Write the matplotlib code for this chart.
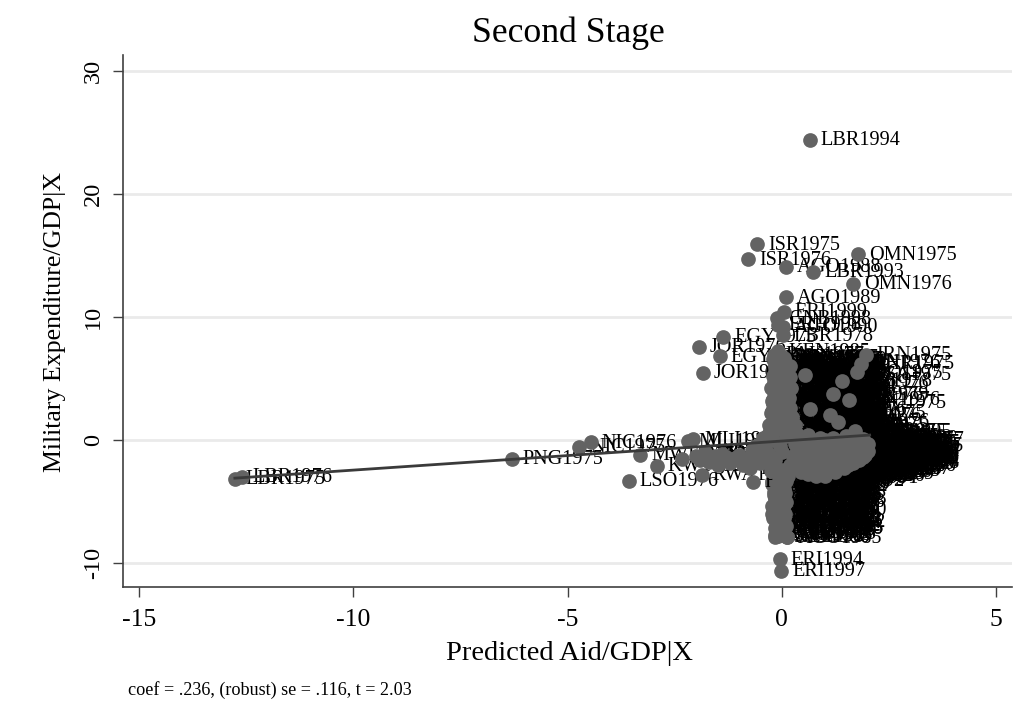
import matplotlib
matplotlib.use("Agg")
import matplotlib.pyplot as plt

# isolated countries, labels stay readable
out_x = [0.65, -0.57, -0.79, 1.77, 0.09, 0.73, 1.66, 0.09, 0.05, -0.12,
         -0.09, 0.02, 0.02, -1.37, -1.93, -1.45, -1.84, -0.05, -0.01, -6.3,
         -4.73, -4.46, -3.57, -3.3, -2.92, -2.34, -2.2, -2.07, -1.87, -0.67,
         -12.76, -12.6, 0.11, -0.16]
out_y = [24.4, 15.9, 14.7, 15.1, 14.1, 13.65, 12.7, 11.6, 10.4, 9.9,
         9.35, 9.2, 8.5, 8.4, 7.6, 6.8, 5.45, -9.7, -10.65, -1.55,
         -0.55, -0.2, -3.3, -1.2, -2.1, -1.55, -0.1, 0.05, -2.85, -3.4,
         -3.15, -3.0, -7.9, -7.85]
out_lab = """LBR1994 ISR1975 ISR1976 OMN1975 AGO1988 LBR1993 OMN1976 AGO1989 ERI1999 GNB1998
ERI1998 AGO1990 LBR1978 EGY1975 JOR1976 EGY1976 JOR1977 ERI1994 ERI1997 PNG1975
NIC1975 NIC1976 LSO1976 MWI1975 KWT1991 MWI1976 MLI1975 MLI1976 RWA1975 BDI1976
LBR1975 LBR1976 AGO1985 AGO1986""".split()

# markers on top of the text: the grey column and band
front_x = [-0.1, 0.05, -0.15, 0.1, -0.2, 0.0, -0.1, 0.12, -0.22, 0.05,
           -0.25, 0.15, -0.3, 0.2, -0.45, 0.3, -0.5, 0.25, -0.4, 0.2,
           -0.1, 0.1, -0.12, 0.08, -0.15, 0.06, -0.13, 0.05, -0.12, -0.05,
           -0.08, 0.11, -0.15, -0.18, 0.05, 0.12, -0.18, -0.2, -0.1, -0.05,
           0.35, 0.5, 0.65, 0.8, 0.95, 1.1, 1.25, 1.4, 1.55, 1.7,
           1.85, 2.02, 1.95, 1.8, 1.6, 1.45, 1.25, 1.0, 0.8, 0.55,
           0.7, 0.9, 1.15, 1.35, 1.5, 1.7, 1.9, 1.0, 0.6, 0.4,
           -2.0, -1.8, -1.6, -1.4, -1.2, -1.0, -0.8, -0.6, -1.7, -1.5,
           -1.1, -0.9, -0.7, -0.5, -0.4, -1.3, -0.75, -0.55, -0.35, -0.25,
           0.54, 1.4, 1.19, 1.56, 1.75, 1.96, 1.85, 0.65, 1.12, 1.3,
           0.3, 0.45, 0.6, 0.75, 0.9, 1.05, 1.2, 1.35, 1.5, 1.65,
           1.8, 1.95, 0.4, 0.55, 0.7, 0.85, 1.0, 1.15, 1.3, 1.45,
           1.6, 1.75, 1.9, 2.0, 0.45, 0.6, 0.75, 0.9, 1.05, 1.2,
           1.35, 1.5, 1.65, 1.1, 0.85, -1.9, -1.55, -1.25, -0.95, -0.65,
           -0.3, -0.2, -0.05, 0.1, -0.3, -0.15, 0.0, 0.2, -0.6, -0.45,
           0.0, 0.15, -0.1, 0.05, -0.15, 0.1, -0.05, 0.08, -0.12, 0.1,
           -0.1, 0.1, -0.15, 0.1, -0.15, 0.1, -0.12, 0.14, -0.2, 0.1]
front_y = [7.2, 6.7, 6.2, 5.7, 5.2, 4.7, 4.2, 3.7, 3.2, 2.7,
           2.2, 1.7, 1.2, 0.7, 0.2, -0.3, -0.8, -1.3, -1.8, -2.3,
           -2.8, -3.3, -3.8, -4.3, -4.8, -5.3, -5.8, -6.3, -6.8, -7.3,
           -7.8, -7.85, -7.7, 6.9, 5.9, 4.9, 3.9, 2.9, 1.9, 0.9,
           -0.6, -1.2, -2.0, -2.9, -1.5, -0.6, -2.6, -1.1, -2.0, -0.4,
           -0.9, -0.3, -1.2, -1.6, -1.5, -2.3, -1.7, -2.9, -0.9, -2.3,
           -2.7, -0.2, -2.2, -0.1, 0.3, 0.7, 0.1, 0.0, 0.4, -1.8,
           -1.3, -1.0, -1.6, -1.1, -1.9, -1.2, -1.5, -1.0, -1.8, -2.0,
           -1.5, -2.0, -0.8, -1.9, -0.6, -1.4, -2.3, -0.4, -1.5, -2.5,
           5.3, 4.8, 3.7, 3.25, 5.5, 6.9, 6.2, 2.5, 2.0, 1.5,
           0.1, -0.3, 0.1, -0.4, 0.2, -0.3, 0.2, -0.5, -0.2, -0.1,
           -0.1, -0.7, -1.0, -0.9, -1.3, -1.4, -1.1, -1.2, -1.1, -0.6,
           -1.0, -1.1, -1.4, -0.9, -2.6, -2.8, -1.8, -2.2, -2.2, -2.4,
           -2.1, -1.6, -1.9, -1.9, -2.6, -1.6, -1.3, -1.6, -1.5, -1.3,
           0.6, 0.0, -0.5, 0.3, -1.1, -1.6, -1.0, -2.0, -0.5, -1.2,
           -2.4, -2.9, -3.5, -4.0, -4.5, -5.0, -5.5, -6.0, -6.5, -7.0,
           6.4, 5.5, 5.0, 4.4, 3.5, 3.2, 2.5, 2.3, 1.5, 1.0]
front_lab = """KEN1985 SDN1980 TCD1984 ZMB1977 SOM1982 ETH1979 MRT1981 GIN1983 YEM1990 MAR1978
TZA1986 UGA1988 SEN1979 GHA1977 NER1982 MDG1984 BFA1987 TGO1980 BEN1983 ZWE1989
CMR1981 CAF1985 COG1978 ZAR1986 MOZ1990 NGA1992 BOL1982 HND1988 PER1984 GTM1979
CIV1991 SLE1987 GMB1983 PAK1977 IND1981 LKA1985 NPL1982 BGD1986 PHL1979 IDN1983
MUS1980 LSO1985 SWZ1978 BWA1982 GAB1984 CPV1986 COM1989 DJI1992 FJI1979 GUY1981
JAM1985 HTI1987 SLV1983 NIC1988 CRI1980 DOM1976 ECU1978 PRY1984 TUN1977 DZA1981
VNM1991 LAO1986 KHM1993 MNG1990 ALB1994 ARM1995 GEO1996 KGZ1997 TJK1998 UZB1999
MWI1982 MLI1984 RWA1986 BDI1988 KWT1977 BHR1979 QAT1981 ARE1983 SAU1985 LBN1987
IRQ1989 IRN1991 TUR1993 GRC1976 CYP1978 MLT1980 PAN1982 COL1984 VEN1986 ARG1988
SYR1977 SYR1978 YEM1979 SDN1976 IRQ1975 IRN1975 BHR1975 KWT1976 SAU1976 ARE1976
KEN1991 SDN1992 TCD1993 ZMB1994 SOM1985 ETH1986 MRT1987 GIN1988 YEM1991 MAR1992
TZA1993 UGA1994 SEN1995 GHA1996 NER1997 MDG1998 BFA1999 TGO1975 BEN1976 ZWE1977
CMR1978 CAF1979 COG1980 ZAR1981 MOZ1982 NGA1983 BOL1984 HND1985 PER1986 GTM1987
CIV1988 SLE1989 GMB1990 PAK1991 IND1992 LKA1993 NPL1994 BGD1995 PHL1996 IDN1997
MUS1998 LSO1999 SWZ1975 BWA1976 GAB1977 CPV1978 COM1979 DJI1980 FJI1981 GUY1982
JAM1983 HTI1984 SLV1985 NIC1986 CRI1987 DOM1988 ECU1989 PRY1990 TUN1991 DZA1992
VNM1993 LAO1994 KHM1995 MNG1996 ALB1997 ARM1998 GEO1999 KGZ1996 TJK1995 UZB1997""".split()

# upper right edge of the column
edge_x = [0.2, 0.18, 0.22, 0.16, 0.2, 0.24, 0.3, 0.35]
edge_y = [6.0, 5.1, 4.2, 3.4, 2.6, 1.9, 1.2, 0.5]
edge_lab = "ZAF1985 ZAF1986 NAM1991 NAM1992 CHN1984 CHN1985 KOR1983 KOR1984".split()

# markers under the text: the black mass right of the column
back_x = [0.1, 0.25, 0.05, 0.3, 0.15, 0.35, 0.08, 0.28, 0.18, 0.4,
          0.12, 0.3, 0.2, 0.38, 0.06, 0.27, 0.45, 0.15, 0.33, 0.5,
          0.22, 0.55, 0.4, 0.65, 0.3, 0.7, 0.5, 0.8, 0.6, 0.1,
          0.15, 0.05, 0.2, 0.1, 0.02, 0.18, 0.08, 0.14, 0.0, 0.12,
          0.06, 0.16, 0.02, 0.1, 0.12, 0.0, 0.08, 0.1, 0.3, 0.28,
          0.25, 0.12, 0.3, 0.06, 0.36, 0.18, 0.28, 0.4, 0.2, 0.33,
          0.15, 0.3, 0.05, 0.38, 0.22, 0.1, 0.34, 0.26, 0.42, 0.16,
          0.3, 0.5, 0.6, 0.9, 1.2, 1.5, 1.7, 1.85, 0.3, 0.45,
          1.7, 1.82, 1.42, 1.19, 1.7, 1.08, 1.28, 1.7, 1.95, 2.02,
          2.05, 1.9, 2.03, 1.85, 1.98, 1.7, 1.6, 1.4, 1.2, 1.75,
          1.6, 1.97, 1.65, 2.0, 1.85, 1.55, 1.45, 1.1, 0.95, 0.8,
          1.4, 1.2, 1.05, 0.9, 0.7, 1.8, 1.92, 1.75, 1.95, 1.65,
          0.02, 0.2, 0.3, 0.1, 0.25, 0.05, 0.32, 0.15, 0.28, 0.08,
          0.22, 0.35, 0.12, 0.3, 0.18, 0.04, 0.33, 0.1, 0.26, 0.4,
          0.16, 0.45, 0.3, 0.5, 0.2, 0.12, 0.3, 0.05, 0.24, 0.33,
          0.1, 0.28, 0.18, 0.35, 0.25, 0.42, 0.22, 0.05, 0.2, 0.12,
          0.03, 0.18, 0.1, 0.2, 0.06, 0.15, 0.0, 0.12, 0.2, 0.08,
          0.16, 0.02, 0.1, 0.18, 0.05, 0.25, 0.3, 0.22, 0.14, 0.07,
          0.17, 0.04, 0.13, 0.09, 0.06, 0.2, 0.02, 0.15, 0.19, 0.05,
          0.55, 0.8, 1.0, 1.2, 1.4, 1.6, 1.8, 1.9, 1.95, 2.0,
          2.02, 1.95, 2.05, 1.9, 2.0, 1.85, 1.95, 1.8, 1.6, 1.4,
          1.2, 1.0, 0.7, 1.75, 1.7, 1.65, 1.5, 1.25, 0.85, 1.6,
          1.5, 1.15, 0.75, 0.4, 0.55, 1.0, 1.3, 1.45, 1.5, 1.55,
          -0.2, -0.12, -0.22, -0.08, -0.18, -0.25, -0.1, -0.2, -0.14, -0.24,
          -0.06, -0.2, -0.15, -0.12, -0.22, -0.08, -0.18, -0.14, -0.24, -0.1,
          -0.2, -0.07, -0.16, -0.12, -0.22, -0.09, -0.18, -0.13, -0.23, -0.1]
back_y = [6.7, 6.45, 6.2, 5.95, 5.7, 5.45, 5.2, 4.95, 4.7, 4.45,
          4.2, 3.95, 3.7, 3.45, 3.2, 2.95, 2.7, 2.45, 2.2, 1.95,
          1.7, 1.45, 1.2, 0.95, 0.7, 0.45, 0.2, -0.05, -0.3, -2.95,
          -3.2, -3.45, -3.7, -3.95, -4.2, -4.45, -4.7, -4.95, -5.2, -5.45,
          -5.7, -5.95, -6.2, -6.45, -6.7, -6.95, -7.2, -7.45, -3.1, -3.6,
          6.55, 6.05, 5.55, 5.05, 4.55, 4.05, 3.55, 3.05, 2.55, 2.05,
          6.3, 5.8, 5.3, 4.8, 4.3, 3.8, 3.3, 2.8, 2.3, 1.8,
          1.55, 1.3, 1.05, 0.8, 0.55, 0.3, 0.05, -0.2, 1.9, 1.4,
          6.25, 5.3, 4.6, 3.65, 3.0, 2.2, 1.25, 0.65, 0.0, -0.2,
          -0.5, -0.8, -1.05, -1.3, -1.55, -1.8, -2.05, -2.3, -2.55, -0.65,
          -0.35, -0.95, -1.15, -1.45, -1.7, -1.95, -2.2, -2.45, -2.7, -3.0,
          -0.1, 0.15, 0.4, 0.75, 1.0, -0.75, -1.25, -1.6, -1.85, -2.15,
          6.6, 6.35, 6.1, 5.85, 5.6, 5.35, 5.1, 4.85, 4.6, 4.35,
          4.1, 3.85, 3.6, 3.35, 3.1, 2.85, 2.6, 2.35, 2.1, 1.85,
          1.6, 1.35, 1.1, 0.85, 6.5, 6.0, 5.5, 5.0, 4.5, 4.0,
          3.5, 3.0, 2.5, 2.0, 1.5, 1.0, -3.0, -3.3, -3.55, -3.8,
          -4.05, -4.3, -4.55, -4.8, -5.05, -5.3, -5.55, -5.8, -6.05, -6.3,
          -6.55, -6.8, -7.05, -7.3, -7.55, -3.15, -3.65, -4.15, -4.65, -5.15,
          -5.65, -6.15, -6.65, -7.15, -7.6, -3.4, -3.9, -4.4, -4.9, -5.4,
          1.1, 0.9, 0.7, 0.5, 0.3, 0.1, -0.1, -0.3, -0.5, -0.7,
          -0.9, -1.1, -1.3, -1.5, -1.7, -1.9, -2.1, -2.3, -2.5, -2.7,
          -2.9, -3.1, -3.3, -1.0, -1.4, -1.8, -2.2, -2.6, -3.0, -0.6,
          -0.2, 0.2, 0.6, -3.5, -3.2, -2.8, -2.4, -2.0, -1.6, -1.2,
          6.6, 6.1, 5.65, 5.2, 4.7, 4.25, 3.75, 3.3, 2.8, 2.35,
          1.85, 1.4, 0.95, -3.1, -3.55, -4.0, -4.5, -4.9, -5.35, -5.8,
          -6.3, -6.7, -7.15, -7.55, -3.35, -3.8, -4.25, -5.1, -6.0, -6.95]
back_lab = """KEN1975 SDN1976 TCD1977 ZMB1978 SOM1979 ETH1980 MRT1981 GIN1982 YEM1983 MAR1984
TZA1985 UGA1986 SEN1987 GHA1988 NER1989 MDG1990 BFA1991 TGO1992 BEN1993 ZWE1994
CMR1995 CAF1996 COG1997 ZAR1998 MOZ1999 NGA1975 BOL1976 HND1977 PER1978 GTM1979
CIV1980 SLE1981 GMB1982 PAK1983 IND1984 LKA1985 NPL1986 BGD1987 PHL1988 IDN1989
MUS1990 LSO1991 SWZ1992 BWA1993 GAB1994 CPV1995 COM1996 DJI1997 FJI1998 GUY1999
JAM1975 HTI1976 SLV1977 NIC1978 CRI1979 DOM1980 ECU1981 PRY1982 TUN1983 DZA1984
VNM1985 LAO1986 KHM1987 MNG1988 ALB1989 ARM1990 GEO1991 KGZ1992 TJK1993 UZB1994
MWI1995 MLI1996 RWA1997 BDI1998 KWT1999 BHR1975 QAT1976 ARE1977 SAU1978 LBN1979
IRN1976 USA1975 IRQ1976 SYR1976 SAU1975 KWT1975 QAT1975 ARE1975 OMN1977 TUR1975
GRC1975 CYP1976 MLT1977 PAN1978 COL1979 VEN1980 ARG1981 BRA1982 CHL1983 URY1984
MEX1985 CUB1986 PNG1987 SLB1988 VUT1989 WSM1990 TON1991 MDV1992 BTN1993 MMR1994
THA1995 MYS1996 KOR1997 CHN1998 NAM1999 ZAF1975 AGO1976 ERI1977 GNB1978 STP1979
KEN1980 SDN1981 TCD1982 ZMB1983 SOM1984 ETH1985 MRT1986 GIN1987 YEM1988 MAR1989
TZA1990 UGA1991 SEN1992 GHA1993 NER1994 MDG1995 BFA1996 TGO1997 BEN1998 ZWE1999
CMR1975 CAF1976 COG1977 ZAR1978 MOZ1979 NGA1980 BOL1981 HND1982 PER1983 GTM1984
CIV1985 SLE1986 GMB1987 PAK1988 IND1989 LKA1990 NPL1991 BGD1992 PHL1993 IDN1994
MUS1995 LSO1996 SWZ1997 BWA1998 GAB1999 CPV1975 COM1976 DJI1977 FJI1978 GUY1979
JAM1980 HTI1981 SLV1982 NIC1983 CRI1984 DOM1985 ECU1986 PRY1987 TUN1988 DZA1989
VNM1990 LAO1991 KHM1992 MNG1993 ALB1995 ARM1996 GEO1997 KGZ1998 TJK1999 UZB1995
MWI1977 MLI1978 RWA1979 BDI1980 KWT1981 BHR1982 QAT1983 ARE1984 SAU1986 LBN1985
IRN1980 USA1981 IRQ1982 SYR1983 TUR1984 GRC1985 CYP1986 MLT1987 PAN1988 COL1989
VEN1990 ARG1991 BRA1992 CHL1993 URY1994 MEX1995 CUB1996 PNG1997 SLB1998 VUT1999
WSM1975 TON1976 MDV1977 BTN1978 MMR1979 THA1980 MYS1981 KOR1982 CHN1983 NAM1990
KEN1978 SDN1979 TCD1980 ZMB1981 SOM1980 ETH1981 MRT1982 GIN1984 YEM1985 MAR1986
TZA1987 UGA1989 SEN1990 GHA1981 NER1983 MDG1985 BFA1988 TGO1989 BEN1990 ZWE1991
CMR1992 CAF1993 COG1994 ZAR1995 MOZ1996 NGA1997 BOL1998 HND1999 PER1995 GTM1996""".split()

# fitted line end points
fit_x = [-12.76, 2.05]
fit_y = [-3.1, 0.4]

xticks = [-15, -10, -5, 0, 5]
yticks = [-10, 0, 10, 20, 30]

plt.rcParams["font.family"] = ["Liberation Serif", "DejaVu Serif"]
MARK = "#636363"

fig = plt.figure(figsize=(10.29, 7.04), dpi=100)
ax = fig.add_axes([123 / 1029, 1 - 587 / 704, (1012 - 123) / 1029, (587 - 55) / 704])
ax.set_xlim(-15.37, 5.37)
ax.set_ylim(-11.95, 31.3)

top_x = front_x + edge_x + out_x
top_y = front_y + edge_y + out_y
ax.scatter(back_x, back_y, s=112, color=MARK, linewidths=0, zorder=2)
for x, y, lab in zip(back_x + top_x, back_y + top_y, back_lab + front_lab + edge_lab + out_lab):
    ax.annotate(lab, (x, y), xytext=(7.9, -0.6), textcoords="offset points", fontsize=14.6,
                color="black", va="center", ha="left", zorder=3, annotation_clip=False)
ax.scatter(top_x, top_y, s=112, color=MARK, linewidths=0, zorder=4)
ax.plot(fit_x, fit_y, color="#3a3a3a", lw=2, zorder=5)

ax.set_xticks(xticks)
ax.set_yticks(yticks)
ax.set_xticklabels([str(t) for t in xticks], fontsize=18.5)
ax.set_yticklabels([str(t) for t in yticks], fontsize=17.5, rotation=90, va="center")
ax.tick_params(axis="x", length=7.5, width=1, color="#404040", pad=8)
ax.tick_params(axis="y", length=7.5, width=1, color="#404040", pad=6)
ax.grid(axis="y", color="#eaeaea", lw=2)
ax.set_axisbelow(True)
for side in ["top", "right"]:
    ax.spines[side].set_visible(False)
for side in ["left", "bottom"]:
    ax.spines[side].set_color("#404040")
    ax.spines[side].set_linewidth(1.2)

fig.text(568 / 1029, 1 - 33 / 704, "Second Stage", fontsize=25.7, ha="center", va="center")
fig.text(570 / 1029, 1 - 654 / 704, "Predicted Aid/GDP|X", fontsize=20.5, ha="center", va="center")
fig.text(55 / 1029, 1 - 322 / 704, "Military Expenditure/GDP|X", fontsize=18.6, rotation=90, ha="center", va="center")
fig.text(128 / 1029, 1 - 690 / 704, "coef = .236, (robust) se = .116, t = 2.03", fontsize=13.1, ha="left", va="center")

fig.savefig("out.png", dpi=100)
